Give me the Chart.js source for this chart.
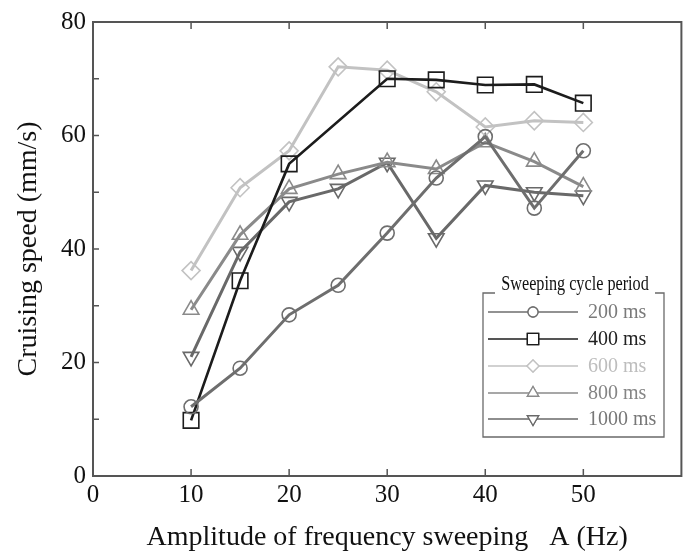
<!DOCTYPE html>
<html>
<head>
<meta charset="utf-8">
<script src="https://cdn.jsdelivr.net/npm/chart.js@4/dist/chart.umd.min.js"></script>
<style>
  html, body { margin: 0; padding: 0; background: #fff; }
  #wrap { width: 694px; height: 554px; }
</style>
</head>
<body>
<div id="wrap"><canvas id="c" width="694" height="554"></canvas></div>
<script>
// ---- data ----
const amplitudes = [10, 15, 20, 25, 30, 35, 40, 45, 50];
const speed200  = [12.2, 19.0, 28.4, 33.6, 42.8, 52.5, 59.8, 47.2, 57.3];
const speed400  = [9.8, 34.4, 55.0, null, 70.0, 69.8, 68.9, 69.0, 65.7];
const speed600  = [36.2, 50.8, 57.3, 72.1, 71.5, 67.7, 61.5, 62.6, 62.3];
const speed800  = [29.3, 42.5, 50.6, 53.2, 55.3, 54.1, 58.8, 55.4, 51.0];
const speed1000 = [21.0, 39.5, 48.3, 50.6, 55.2, 41.9, 51.2, 50.0, 49.4];
const seriesLabels = ['200 ms', '400 ms', '600 ms', '800 ms', '1000 ms'];
const xTickValues = [0, 10, 20, 30, 40, 50, 60];
const yTickValues = [0, 10, 20, 30, 40, 50, 60, 70, 80];
const legendTitle = 'Sweeping cycle period';
const xTitle = 'Amplitude of frequency sweeping   A (Hz)';
const yTitle = 'Cruising speed (mm/s)';

function pts(xs, ys) { return xs.map((v, i) => ({ x: v, y: ys[i] })); }

const styles = [
  { color: '#6e6e6e', text: '#7a7a7a', shape: 'circle',   r: 7,  lr: 5,  rot: 0 },
  { color: '#1c1c1c', text: '#222222', shape: 'rect',     r: 11, lr: 8,  rot: 0 },
  { color: '#c2c2c2', text: '#bdbdbd', shape: 'rectRot',  r: 9,  lr: 6,  rot: 0 },
  { color: '#8a8a8a', text: '#858585', shape: 'triangle', r: 9,  lr: 6.5, rot: 0 },
  { color: '#696969', text: '#777777', shape: 'triangle', r: 9,  lr: 6.5, rot: 180 }
];
const seriesData = [
  pts(amplitudes, speed200),
  pts(amplitudes, speed400),
  pts(amplitudes, speed600),
  pts(amplitudes, speed800),
  pts(amplitudes, speed1000)
];

const datasets = seriesData.map((d, i) => ({
  label: seriesLabels[i],
  data: d,
  borderColor: styles[i].color,
  backgroundColor: '#ffffff',
  borderWidth: i === 1 ? 2.6 : 3,
  pointStyle: styles[i].shape,
  pointRotation: styles[i].rot,
  pointRadius: styles[i].r,
  pointBorderWidth: 1.6,
  pointBorderColor: styles[i].color,
  pointBackgroundColor: 'rgba(255,255,255,0)',
  tension: 0,
  spanGaps: true,
  clip: false
}));

const FONT = 'Liberation Serif';

const framePlugin = {
  id: 'frame',
  beforeDatasetsDraw(chart) {
    const { ctx, chartArea: a, scales } = chart;
    const x = scales.x, y = scales.y;
    ctx.save();
    ctx.strokeStyle = '#555555';
    ctx.lineWidth = 2;
    ctx.strokeRect(a.left, a.top, a.right - a.left, a.bottom - a.top);
    ctx.lineWidth = 1.5;
    ctx.beginPath();
    xTickValues.forEach(v => {
      if (v === 0 || v === 60) return;
      const px = x.getPixelForValue(v);
      ctx.moveTo(px, a.bottom); ctx.lineTo(px, a.bottom - 7);
      ctx.moveTo(px, a.top); ctx.lineTo(px, a.top + 7);
    });
    yTickValues.forEach(v => {
      if (v === 0 || v === 80) return;
      const py = y.getPixelForValue(v);
      ctx.moveTo(a.left, py); ctx.lineTo(a.left + 6, py);
    });
    ctx.stroke();
    ctx.restore();
  }
};

const legendPlugin = {
  id: 'customLegend',
  afterDraw(chart) {
    const ctx = chart.ctx;
    const box = { l: 483, t: 293, r: 664, b: 437 };
    ctx.save();
    ctx.fillStyle = '#ffffff';
    ctx.fillRect(box.l, box.t, box.r - box.l, box.b - box.t);
    ctx.strokeStyle = '#6a6a6a';
    ctx.lineWidth = 1.3;
    ctx.beginPath();
    ctx.moveTo(495, box.t); ctx.lineTo(box.l, box.t); ctx.lineTo(box.l, box.b);
    ctx.lineTo(box.r, box.b); ctx.lineTo(box.r, box.t); ctx.lineTo(655, box.t);
    ctx.stroke();
    ctx.fillStyle = '#111111';
    ctx.font = '18px "' + FONT + '"';
    ctx.textAlign = 'center';
    ctx.textBaseline = 'alphabetic';
    ctx.save();
    ctx.translate(575, 290);
    ctx.scale(0.9, 1.12);
    ctx.fillText(legendTitle, 0, 0);
    ctx.restore();
    const rows = [312, 339, 366, 393, 419];
    chart.data.datasets.forEach((ds, i) => {
      const yy = rows[i];
      const st = styles[i];
      ctx.strokeStyle = st.color;
      ctx.lineWidth = 1.6;
      ctx.beginPath();
      ctx.moveTo(488, yy); ctx.lineTo(578, yy);
      ctx.stroke();
      ctx.fillStyle = '#ffffff';
      ctx.lineWidth = 1.3;
      Chart.helpers.drawPoint(ctx, {
        pointStyle: st.shape, rotation: st.rot, radius: st.lr, borderWidth: 1.3
      }, 533, yy);
      ctx.fill();
      ctx.stroke();
      ctx.fillStyle = st.text;
      ctx.font = '20px "' + FONT + '"';
      ctx.textAlign = 'left';
      ctx.textBaseline = 'middle';
      ctx.fillText(ds.label, 588, yy + 1);
    });
    ctx.restore();
  }
};

new Chart(document.getElementById('c'), {
  type: 'line',
  data: { datasets },
  options: {
    responsive: false,
    animation: false,
    devicePixelRatio: 1,
    layout: { padding: { top: 17, right: 9, left: 0, bottom: 0 } },
    plugins: { legend: { display: false }, tooltip: { enabled: false } },
    elements: { line: { fill: false } },
    scales: {
      x: {
        type: 'linear',
        min: 0, max: 60,
        afterFit: s => { s.height = 78; },
        afterBuildTicks: s => { s.ticks = xTickValues.map(v => ({ value: v })); },
        ticks: {
          font: { family: FONT, size: 25 },
          color: '#111111',
          padding: 4,
          maxRotation: 0,
          autoSkip: false,
          callback: v => (v === 60 ? '' : String(v))
        },
        grid: { display: false, drawTicks: false, tickLength: 0 },
        border: { display: false },
        title: {
          display: true, text: xTitle,
          font: { family: FONT, size: 28 }, color: '#111111',
          padding: { top: 0, bottom: 0 }
        }
      },
      y: {
        type: 'linear',
        min: 0, max: 80,
        afterFit: s => { s.width = 93; },
        afterBuildTicks: s => { s.ticks = yTickValues.map(v => ({ value: v })); },
        ticks: {
          font: { family: FONT, size: 25 },
          color: '#111111',
          padding: 7,
          autoSkip: false,
          callback: v => (v % 20 === 0 ? String(v) : '')
        },
        grid: { display: false, drawTicks: false, tickLength: 0 },
        border: { display: false },
        title: {
          display: true, text: yTitle,
          font: { family: FONT, size: 28 }, color: '#111111',
          padding: { top: 12, bottom: 0 }
        }
      }
    }
  },
  plugins: [framePlugin, legendPlugin]
});
</script>
</body>
</html>
